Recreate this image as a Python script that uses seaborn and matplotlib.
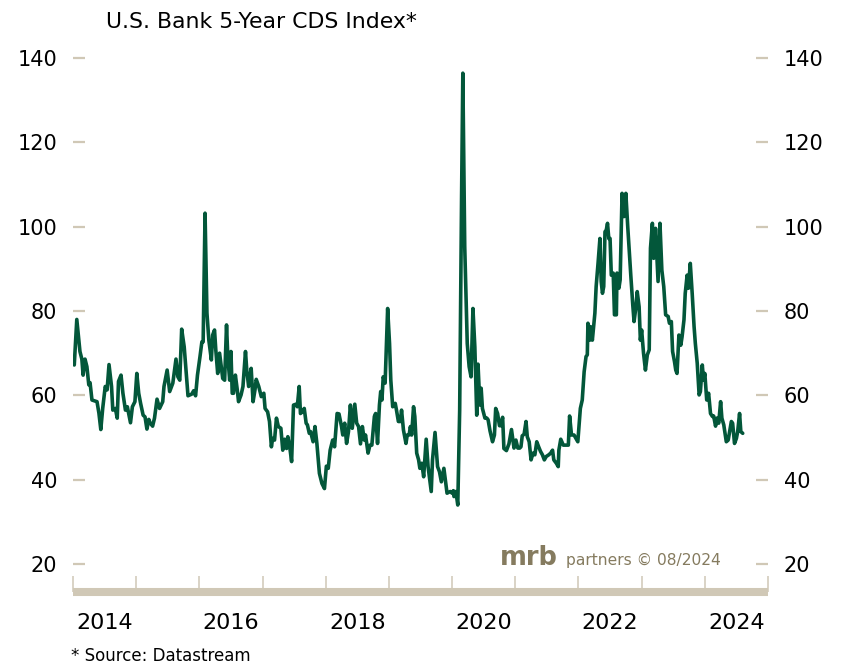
import matplotlib
matplotlib.use("Agg")
import matplotlib.pyplot as plt
import pandas as pd
import seaborn as sns

# ---------------- data ----------------
years = [
    2014.00, 2014.02, 2014.06, 2014.11, 2014.14, 2014.16, 2014.19, 2014.22, 2014.25, 2014.27,
    2014.30, 2014.38, 2014.41, 2014.44, 2014.47, 2014.51, 2014.54, 2014.57, 2014.61, 2014.63,
    2014.67, 2014.70, 2014.72, 2014.76, 2014.79, 2014.83, 2014.86, 2014.91, 2014.94, 2014.98,
    2015.01, 2015.04, 2015.07, 2015.11, 2015.14, 2015.17, 2015.20, 2015.22, 2015.26, 2015.29,
    2015.33, 2015.37, 2015.42, 2015.44, 2015.49, 2015.53, 2015.58, 2015.63, 2015.66, 2015.69,
    2015.72, 2015.76, 2015.79, 2015.82, 2015.88, 2015.91, 2015.94, 2015.97, 2016.01, 2016.04,
    2016.06, 2016.09, 2016.12, 2016.15, 2016.19, 2016.21, 2016.24, 2016.26, 2016.29, 2016.32,
    2016.34, 2016.37, 2016.40, 2016.43, 2016.45, 2016.48, 2016.50, 2016.52, 2016.54, 2016.57,
    2016.60, 2016.62, 2016.66, 2016.69, 2016.73, 2016.75, 2016.78, 2016.82, 2016.85, 2016.88,
    2016.90, 2016.94, 2016.98, 2017.02, 2017.04, 2017.08, 2017.11, 2017.14, 2017.16, 2017.19,
    2017.22, 2017.25, 2017.29, 2017.32, 2017.35, 2017.38, 2017.40, 2017.43, 2017.46, 2017.49,
    2017.53, 2017.55, 2017.58, 2017.60, 2017.63, 2017.66, 2017.69, 2017.71, 2017.74, 2017.76,
    2017.80, 2017.83, 2017.86, 2017.90, 2017.94, 2017.98, 2018.01, 2018.04, 2018.07, 2018.11,
    2018.14, 2018.18, 2018.21, 2018.25, 2018.27, 2018.30, 2018.33, 2018.36, 2018.39, 2018.42,
    2018.46, 2018.49, 2018.52, 2018.55, 2018.58, 2018.61, 2018.63, 2018.67, 2018.70, 2018.73,
    2018.77, 2018.79, 2018.82, 2018.85, 2018.87, 2018.89, 2018.91, 2018.94, 2018.98, 2019.01,
    2019.03, 2019.06, 2019.10, 2019.12, 2019.15, 2019.18, 2019.20, 2019.23, 2019.27, 2019.29,
    2019.32, 2019.34, 2019.36, 2019.39, 2019.41, 2019.44, 2019.47, 2019.49, 2019.52, 2019.55,
    2019.59, 2019.62, 2019.67, 2019.69, 2019.73, 2019.77, 2019.80, 2019.83, 2019.87, 2019.90,
    2019.92, 2019.97, 2020.00, 2020.02, 2020.03, 2020.06, 2020.09, 2020.12, 2020.15, 2020.17,
    2020.20, 2020.24, 2020.27, 2020.30, 2020.33, 2020.36, 2020.39, 2020.41, 2020.44, 2020.46,
    2020.48, 2020.52, 2020.55, 2020.57, 2020.60, 2020.64, 2020.67, 2020.69, 2020.72, 2020.75,
    2020.77, 2020.80, 2020.82, 2020.86, 2020.90, 2020.94, 2020.98, 2021.01, 2021.04, 2021.07,
    2021.09, 2021.11, 2021.14, 2021.17, 2021.19, 2021.22, 2021.25, 2021.28, 2021.31, 2021.34,
    2021.37, 2021.40, 2021.43, 2021.46, 2021.49, 2021.53, 2021.56, 2021.59, 2021.61, 2021.65,
    2021.68, 2021.69, 2021.72, 2021.76, 2021.79, 2021.84, 2021.86, 2021.89, 2021.93, 2021.96,
    2021.99, 2022.03, 2022.06, 2022.09, 2022.12, 2022.14, 2022.15, 2022.18, 2022.19, 2022.22,
    2022.26, 2022.28, 2022.31, 2022.34, 2022.36, 2022.38, 2022.40, 2022.42, 2022.44, 2022.46,
    2022.48, 2022.50, 2022.52, 2022.55, 2022.57, 2022.60, 2022.61, 2022.64, 2022.66, 2022.69,
    2022.72, 2022.75, 2022.78, 2022.83, 2022.86, 2022.88, 2022.91, 2022.93, 2022.96, 2022.98,
    2023.00, 2023.03, 2023.06, 2023.09, 2023.12, 2023.14, 2023.17, 2023.19, 2023.22, 2023.26,
    2023.29, 2023.32, 2023.35, 2023.38, 2023.42, 2023.44, 2023.47, 2023.49, 2023.52, 2023.54,
    2023.56, 2023.59, 2023.62, 2023.64, 2023.67, 2023.69, 2023.72, 2023.74, 2023.77, 2023.80,
    2023.83, 2023.85, 2023.88, 2023.91, 2023.93, 2023.96, 2023.98, 2024.00, 2024.03, 2024.06,
    2024.09, 2024.12, 2024.14, 2024.17, 2024.19, 2024.22, 2024.25, 2024.27, 2024.30, 2024.34,
    2024.37, 2024.42, 2024.44, 2024.47, 2024.50, 2024.52, 2024.55, 2024.57, 2024.60,
]

cds_index = [
    68.6, 67.2, 78.0, 70.4, 68.6, 64.8, 68.6, 66.8, 62.5, 63.0,
    58.9, 58.5, 55.8, 51.9, 56.9, 62.1, 61.3, 67.3, 62.1, 56.5,
    56.9, 54.6, 63.3, 64.8, 60.5, 56.5, 57.3, 53.5, 57.3, 58.5,
    65.2, 60.5, 58.1, 55.3, 54.9, 52.0, 54.3, 53.5, 52.7, 54.6,
    59.1, 56.9, 58.5, 62.1, 66.0, 60.9, 62.9, 68.6, 64.4, 63.6,
    75.7, 71.5, 65.6, 59.9, 60.3, 61.1, 59.9, 64.8, 69.2, 72.7,
    72.7, 103.2, 79.5, 73.1, 68.4, 74.3, 75.5, 70.8, 65.2, 70.0,
    67.6, 64.0, 63.6, 76.7, 69.2, 63.6, 70.4, 60.5, 60.5, 64.8,
    61.3, 58.5, 60.1, 62.1, 70.4, 66.0, 62.1, 66.4, 58.5, 61.3,
    63.8, 62.1, 59.7, 60.5, 56.9, 56.1, 53.8, 47.8, 49.8, 49.4,
    54.6, 52.6, 52.2, 47.0, 49.6, 47.4, 50.2, 47.8, 44.3, 57.7,
    57.9, 57.3, 62.1, 55.7, 56.1, 56.9, 53.4, 53.0, 51.0, 51.4,
    49.0, 52.6, 48.6, 41.5, 39.1, 37.9, 43.2, 42.7, 47.0, 49.4,
    47.8, 55.7, 55.6, 52.6, 50.6, 53.4, 48.6, 51.4, 57.7, 52.2,
    57.9, 53.4, 52.6, 48.5, 52.6, 49.4, 50.6, 46.3, 48.2, 48.2,
    55.0, 55.7, 48.6, 57.7, 60.9, 58.9, 64.4, 62.9, 80.6, 72.3,
    63.6, 57.3, 58.1, 56.5, 53.8, 53.8, 56.5, 51.8, 48.6, 50.6,
    50.6, 52.6, 50.6, 57.3, 55.0, 46.3, 44.7, 42.7, 43.9, 40.7,
    49.6, 43.1, 37.2, 44.7, 51.2, 43.1, 41.9, 39.5, 42.7, 39.1,
    36.8, 37.2, 36.8, 37.4, 36.0, 37.2, 34.0, 56.5, 107.0, 136.4,
    95.3, 72.3, 66.8, 64.4, 80.6, 71.5, 55.3, 67.4, 57.7, 61.7,
    56.9, 54.6, 54.6, 54.2, 51.6, 49.0, 50.6, 56.9, 55.7, 52.8,
    52.8, 54.8, 47.4, 46.9, 48.5, 51.9, 47.5, 49.4, 47.5, 47.5,
    47.8, 50.4, 50.8, 53.8, 50.2, 49.0, 44.7, 46.3, 45.9, 49.0,
    47.8, 46.7, 45.9, 44.7, 45.5, 45.9, 46.3, 47.0, 44.7, 43.9,
    43.1, 47.0, 49.6, 48.2, 48.2, 48.2, 55.1, 50.6, 50.6, 49.8,
    49.0, 56.9, 58.9, 65.6, 69.2, 69.6, 77.1, 73.1, 76.3, 73.1,
    79.5, 85.8, 91.3, 97.2, 87.0, 84.2, 85.8, 98.8, 99.2, 100.8,
    97.2, 97.2, 88.5, 89.0, 79.1, 79.1, 89.0, 85.4, 87.4, 107.9,
    102.4, 107.9, 100.0, 88.1, 81.4, 77.5, 81.0, 84.6, 81.0, 73.1,
    75.5, 70.0, 66.0, 69.6, 70.8, 94.9, 100.8, 92.5, 99.6, 87.0,
    100.8, 89.7, 85.8, 79.1, 78.7, 77.1, 77.5, 70.4, 68.0, 66.0,
    65.2, 74.3, 71.9, 73.9, 77.9, 84.2, 88.5, 85.4, 91.3, 84.2,
    76.3, 72.3, 67.6, 60.1, 60.9, 67.2, 63.6, 65.2, 58.9, 60.5,
    55.7, 55.0, 55.1, 52.7, 54.6, 53.4, 58.5, 54.6, 53.0, 49.0,
    49.4, 53.8, 53.4, 48.6, 49.8, 51.4, 55.7, 51.4, 51.0,
]

year_boundaries = list(range(2014, 2026))
year_labels = ["2014", "2016", "2018", "2020", "2022", "2024"]
y_ticks = [20, 40, 60, 80, 100, 120, 140]
title_text = "U.S. Bank 5-Year CDS Index*"
source_text = "* Source: Datastream"
logo_brand = "mrb"
logo_rest = "partners \u00a9 08/2024"

# ---------------- style ----------------
LINE = "#03573a"
BEIGE = "#d0c8b6"
LOGO = "#857b5f"
W, H = 843, 664

sns.set_theme(style="white")
plt.rcParams["font.family"] = ["DejaVu Sans"]

df = pd.DataFrame({"year": years, "cds": cds_index})

fig = plt.figure(figsize=(W / 100, H / 100), dpi=100)
ax = fig.add_axes([73 / W, 72 / H, 695 / W, (592 - 58) / H])

sns.lineplot(data=df, x="year", y="cds", ax=ax, color=LINE, linewidth=2.6,
             estimator=None, sort=False)

ax.set_xlim(2014, 2025)
ax.set_ylim(13.37, 140)
ax.set_xlabel("")
ax.set_ylabel("")
ax.grid(False)

for s in ["left", "right", "top"]:
    ax.spines[s].set_visible(False)
ax.spines["bottom"].set_color(BEIGE)
ax.spines["bottom"].set_linewidth(5.8)
ax.spines["bottom"].set_capstyle("butt")

ax.set_yticks(y_ticks)
ax.tick_params(axis="y", which="both", direction="in", length=8.6, width=1.6,
               color=BEIGE, left=True, right=True, labelleft=True,
               labelright=True, pad=11.5, labelsize=15, labelcolor="black")

ax.set_xticks(year_boundaries)
ax.set_xticklabels([""] * len(year_boundaries))
ax.set_xticks([int(y) + 0.5 for y in year_labels], minor=True)
ax.set_xticklabels(year_labels, minor=True)
ax.tick_params(axis="x", which="major", direction="in", length=11.5, width=1.1,
               color=BEIGE, bottom=True, labelbottom=False)
ax.tick_params(axis="x", which="minor", length=0, bottom=True, pad=15,
               labelsize=16, labelcolor="black")

fig.text(106 / W, 1 - 28.5 / H, title_text, fontsize=15.8, ha="left",
         va="baseline", color="black")
fig.text(71 / W, 1 - 661 / H, source_text, fontsize=12, ha="left",
         va="baseline", color="black")
fig.text(500 / W, 1 - 565 / H, logo_brand, fontsize=18.5, fontweight="bold",
         ha="left", va="baseline", color=LOGO)
fig.text(721 / W, 1 - 565 / H, logo_rest, fontsize=11.2, ha="right",
         va="baseline", color=LOGO)

fig.savefig("out.png", dpi=100)
